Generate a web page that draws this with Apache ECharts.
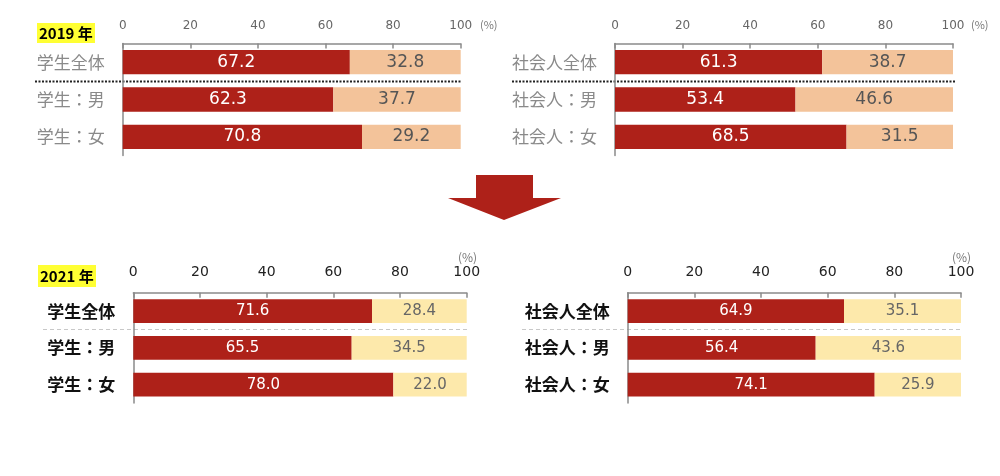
<!DOCTYPE html>
<html>
<head>
<meta charset="utf-8">
<script src="https://cdn.jsdelivr.net/npm/echarts@6/dist/echarts.min.js"></script>
<style>
  html, body { margin: 0; padding: 0; background: #fff; }
  #chart { width: 1000px; height: 476px; }
</style>
</head>
<body>
<div id="chart"></div>
<script>
// categories
var studentCats = ['学生全体', '学生：男', '学生：女']
var workerCats = ['社会人全体', '社会人：男', '社会人：女']

// 2019
var student2019Yes = [67.2, 62.3, 70.8]
var student2019No = [32.8, 37.7, 29.2]
var worker2019Yes = [61.3, 53.4, 68.5]
var worker2019No = [38.7, 46.6, 31.5]

// 2021
var student2021Yes = [71.6, 65.5, 78.0]
var student2021No = [28.4, 34.5, 22.0]
var worker2021Yes = [64.9, 56.4, 74.1]
var worker2021No = [35.1, 43.6, 25.9]

var RED = '#ae2119'
var ORANGE = '#f3c39a'
var YELLOW = '#fde9ab'
var JP = '"Noto Sans CJK JP", sans-serif'

var chart = echarts.init(document.getElementById('chart'))

// four panels, old = 2019 style
var panels = [
  { grid: { left: 122.7, top: 43.5, width: 338, height: 112 }, cats: studentCats, yes: student2019Yes, no: student2019No, old: true },
  { grid: { left: 615, top: 43.5, width: 338, height: 112 }, cats: workerCats, yes: worker2019Yes, no: worker2019No, old: true },
  { grid: { left: 133.3, top: 292.7, width: 333.4, height: 110.3 }, cats: studentCats, yes: student2021Yes, no: student2021No, old: false },
  { grid: { left: 627.7, top: 292.7, width: 333.3, height: 110.3 }, cats: workerCats, yes: worker2021Yes, no: worker2021No, old: false }
]

var grids = [], xAxes = [], yAxes = [], series = []
panels.forEach(function (p, i) {
  grids.push(p.grid)
  xAxes.push({
    type: 'value', gridIndex: i, position: 'top', min: 0, max: 100, interval: 20,
    splitLine: { show: false },
    axisLine: { show: true, lineStyle: { color: '#8a8a8a', width: 1.5 } },
    axisTick: { show: true, inside: true, length: 5, lineStyle: { color: '#8a8a8a', width: 1.5 } },
    axisLabel: {
      margin: p.old ? 12 : 13,
      color: p.old ? '#666' : '#222',
      fontFamily: 'DejaVu Sans',
      fontSize: p.old ? 12 : 14
    }
  })
  yAxes.push({
    type: 'category', gridIndex: i, inverse: true, data: p.cats,
    axisLine: { show: true, lineStyle: { color: '#8a8a8a', width: 1.5 } },
    axisTick: { show: false },
    axisLabel: {
      margin: 18,
      color: p.old ? '#8a8a8a' : '#111',
      fontWeight: p.old ? 'normal' : 'bold',
      fontFamily: JP,
      fontSize: 17
    }
  })
  var valFont = p.old ? 17 : 15
  series.push({
    type: 'bar', stack: 's' + i, xAxisIndex: i, yAxisIndex: i, data: p.yes,
    barCategoryGap: '35%',
    itemStyle: { color: RED },
    label: { show: true, position: 'inside', color: '#fff', fontFamily: 'DejaVu Sans', fontSize: valFont,
      formatter: function (d) { return d.value.toFixed(1) } }
  })
  series.push({
    type: 'bar', stack: 's' + i, xAxisIndex: i, yAxisIndex: i, data: p.no,
    barCategoryGap: '35%',
    itemStyle: { color: p.old ? ORANGE : YELLOW },
    label: { show: true, position: 'inside', color: p.old ? '#555' : '#666', fontFamily: 'DejaVu Sans', fontSize: valFont,
      formatter: function (d) { return d.value.toFixed(1) } }
  })
})

function yearTag(x, y, w, h, text) {
  return {
    type: 'group', left: x, top: y,
    children: [
      { type: 'rect', shape: { x: 0, y: 0, width: w, height: h }, style: { fill: '#ffff33' } },
      { type: 'text', x: 2, y: h / 2, style: { text: text, fill: '#000', font: 'bold 15px ' + JP, textVerticalAlign: 'middle' } }
    ]
  }
}

var graphics = [
  yearTag(37, 23, 58, 20, '2019 年'),
  yearTag(38, 265, 58, 22, '2021 年'),
  { type: 'text', x: 480, y: 19, style: { text: '(%)', fill: '#777', font: '11px ' + JP } },
  { type: 'text', x: 971, y: 19, style: { text: '(%)', fill: '#777', font: '11px ' + JP } },
  { type: 'text', x: 458, y: 251, style: { text: '(%)', fill: '#777', font: '12px ' + JP } },
  { type: 'text', x: 952, y: 251, style: { text: '(%)', fill: '#777', font: '12px ' + JP } },
  // arrow
  { type: 'polygon', shape: { points: [[476, 175], [533, 175], [533, 198], [561, 198], [504, 220], [448, 198], [476, 198]] },
    style: { fill: RED } }
]

chart.setOption({
  animation: false,
  grid: grids,
  xAxis: xAxes,
  yAxis: yAxes,
  series: series,
  graphic: graphics
})

// separators between the total row and the gender rows
var sepX = [[35, 462], [512, 955], [43, 468], [522, 962]]
panels.forEach(function (p, i) {
  var y0 = chart.convertToPixel({ yAxisIndex: i }, p.cats[0])
  var y1 = chart.convertToPixel({ yAxisIndex: i }, p.cats[1])
  var y = Math.round((y0 + y1) / 2) + 0.5
  graphics.push({
    type: 'line',
    shape: { x1: sepX[i][0], y1: y, x2: sepX[i][1], y2: y },
    style: p.old ? { stroke: '#222', lineWidth: 2, lineDash: [2, 1.5] } : { stroke: '#c8c8c8', lineWidth: 1, lineDash: [4, 3] }
  })
})
chart.setOption({ graphic: graphics })
</script>
</body>
</html>
